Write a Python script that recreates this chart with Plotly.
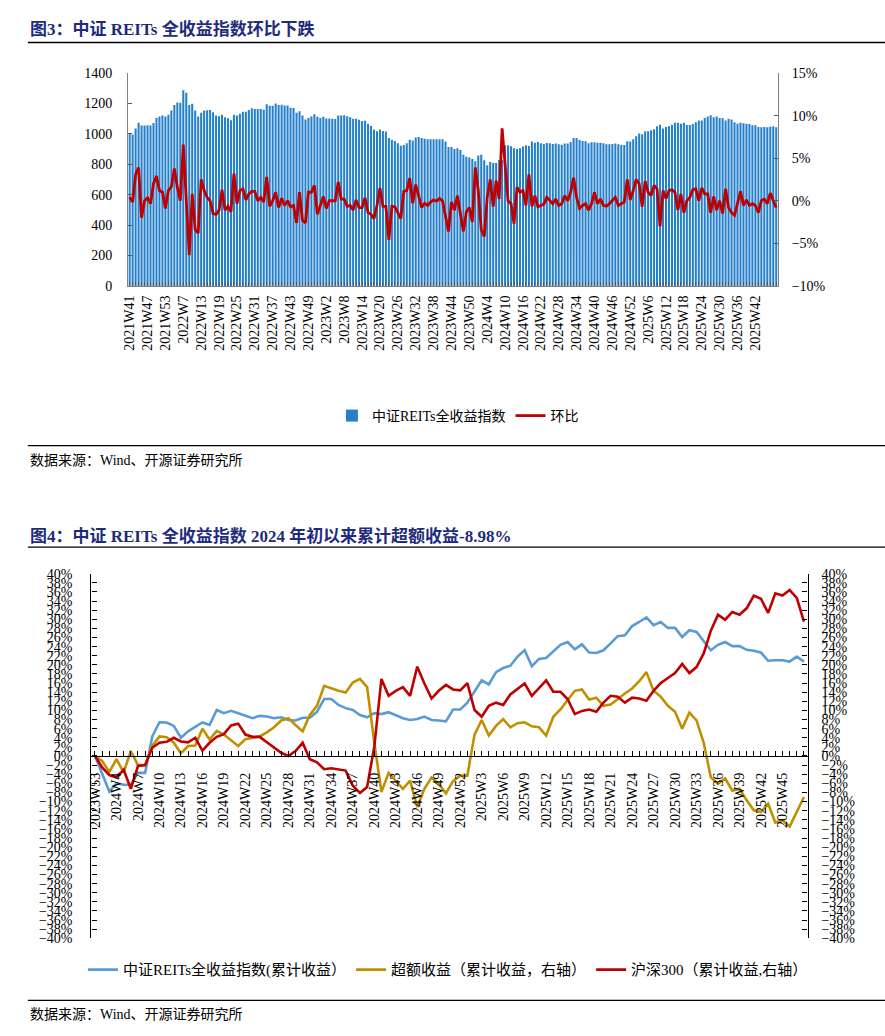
import plotly.graph_objects as go

W, H = 885, 1036
def fx(px): return px / W
def fy(py): return 1 - py / H

FONT = "Liberation Serif, 'Times New Roman', 'Noto Sans CJK SC', serif"
TITLE_COLOR = "#1F2C7B"

# ---------------- Figure 3 data ----------------
cats_top = ([f"2021W{w}" for w in range(41, 54)] + [f"2022W{w}" for w in range(2, 54)] +
            [f"2023W{w}" for w in range(1, 53)] + [f"2024W{w}" for w in range(1, 53)] +
            [f"2025W{w}" for w in range(1, 50)])

reits_index = [
    1000, 995, 1035, 1073, 1055, 1055, 1056, 1055, 1071, 1105, 1114, 1120, 1114, 1125, 1153, 1190, 1206, 1204, 1286, 1271,
    1190, 1198, 1153, 1114, 1138, 1153, 1155, 1157, 1142, 1120, 1116, 1125, 1110, 1103, 1090, 1125, 1120, 1133, 1146, 1146,
    1157, 1168,
    1163, 1163, 1163, 1159, 1194, 1185, 1185, 1200, 1189, 1191, 1187, 1187, 1172, 1170, 1138, 1148, 1120, 1095, 1105, 1114,
    1129, 1112, 1105, 1112, 1101, 1101, 1099, 1097, 1120, 1120, 1122, 1116, 1110, 1099, 1099, 1093, 1084, 1086, 1067, 1052,
    1028, 1017, 1028, 1019,
    1015, 972, 961, 953, 938, 921, 927, 938, 961, 957, 976, 980, 972, 967, 964, 964, 964, 964, 964, 964,
    949, 914, 914, 901, 905, 893, 862, 849, 845, 835, 820, 858, 862, 826, 794, 815, 809, 809, 828, 828,
    925, 925, 918, 905,
    900, 905, 916, 925, 920, 949, 942, 946, 938, 933, 940, 938, 933, 936, 931, 929, 936, 936, 946, 972,
    972, 959, 953, 951, 938, 944, 944, 942, 942, 938, 931, 931, 933, 936, 931, 927, 927, 951, 949, 964,
    985, 1002, 998, 1017,
    1017, 1024, 1030, 1050, 1060, 1035, 1045, 1050, 1060, 1073, 1073, 1067, 1073, 1058, 1058, 1065, 1077, 1088, 1088, 1105,
    1114, 1123, 1110, 1114, 1105, 1103, 1088, 1099, 1095, 1077, 1067, 1073, 1069, 1067, 1065, 1056, 1056, 1045, 1043, 1045,
    1043, 1047, 1050, 1043,
]

wow_pct = [
    0.42, -0.15, 3.1, 3.9, -2.0, 0.0, 0.35, -0.35, 2.0, 2.9, 1.2, 1.0, -0.9, 1.2, 1.65, 3.8, 1.6, 0.0, 6.6, 0.4,
    -6.4, 0.8, -3.4, -3.8, 2.5, 1.2, 0.4, 0.0, -1.5, -1.6, -1.1, 1.3, -1.1, -0.65, -1.3, 3.2, -0.35, 1.2, 1.4, 0.1,
    0.8, 1.1,
    1.1, 0.0, 0.4, -0.15, 2.8, -0.65, 0.0, 1.0, -0.8, 0.3, -0.55, 0.0, -0.7, -0.55, -2.6, 1.0, -2.3, -2.6, 1.0, 1.0,
    1.8, -1.6, -0.55, 0.5, -0.9, 0.0, 0.0, 0.0, 2.2, 0.2, 0.2, -0.65, -0.55, -1.1, 0.1, -0.8, -0.8, 0.35, -1.4, -1.6,
    -2.1, -0.55, 1.5, -0.65,
    -0.65, -4.6, -0.65, -0.7, -1.4, -2.1, 1.1, 1.2, 2.65, -0.3, 1.9, 0.5, -0.8, -0.3, -0.55, -0.15, 0.1, -0.05, 0.25, 0.0,
    -1.7, -3.6, -0.15, -1.1, 0.6, -1.5, -3.6, -1.3, -0.8, -2.5, 3.9, 1.2, -3.4, -4.2, 0.4, 2.5, -0.7, 2.35, 0.2, 8.5,
    4.3, 0.0, -0.35, -2.7,
    1.6, 1.0, 1.2, -0.55, 3.1, -0.65, 0.6, -0.7, -0.55, -0.4, 0.4, 0.0, -0.35, 0.2, -0.55, -0.35, 0.6, 0.0, 1.0, 2.7,
    0.4, -0.9, -0.55, -0.35, -1.1, -0.35, 1.0, -0.35, 0.2, -0.55, -0.65, -0.35, 0.0, 0.4, -0.55, -0.3, -0.15, 2.5, 0.1, 1.2,
    2.5, 2.0, -0.7, 2.3,
    1.0, 0.6, 1.8, 1.4, -3.0, 1.2, 0.25, 1.2, 1.3, 1.0, -1.1, 0.8, -1.4, 0.0, 0.4, 1.3, 1.4, 0.0, 1.5, 0.8,
    0.8, -1.4, 0.5, -1.1, 0.0, -1.5, 1.4, -0.8, -1.4, -1.7, -0.35, 1.1, -0.55, 0.1, -0.55, -0.35, -0.55, -1.4, 0.0, 0.2,
    -0.35, 0.9, 0.0, -0.8,
]
# tick labels shown every 6 weeks, last one 2025W42
top_labels = [c if (i % 6 == 0 and i <= 210) else "" for i, c in enumerate(cats_top)]

# ---------------- Figure 4 data ----------------
cats_bot = ["2023W53"] + [f"2024W{w}" for w in range(2, 53)] + [f"2025W{w}" for w in range(1, 49)]

reits_cum = [
    0, -4.0, -7.8, -6.0, -6.3, -6.3, -3.7, -3.7, 4.3, 7.4,
    7.35, 6.6, 4.0, 5.4, 6.3, 7.35, 6.8, 10.1, 9.4, 9.9,
    9.4, 8.9, 8.3, 8.8, 8.65, 8.3, 8.5, 7.9, 7.8, 8.4,
    8.4, 9.7, 12.5, 12.5, 11.2, 10.5, 10.1, 9.0, 8.5, 9.4,
    9.2, 9.6, 9.0, 8.3, 7.9, 8.1, 8.65, 7.9, 7.8, 7.6,
    10.2, 10.2, 11.7, 14.1, 16.6, 15.7, 18.4, 19.3, 19.8, 21.8,
    23.2, 19.7, 21.3, 21.5, 22.9, 24.4, 25.0, 23.4, 24.5, 22.7,
    22.6, 23.2, 24.7, 26.3, 26.5, 28.5, 29.4, 30.4, 28.7, 29.4,
    28.1, 28.1, 26.1, 27.6, 27.2, 25.2, 23.2, 24.4, 25.0, 24.1,
    24.1, 23.3, 23.1, 22.7, 20.9, 21.0, 21.0, 20.7, 21.8, 20.7,
]
excess_cum = [
    0, -1.1, -3.5, -0.7, -3.6, 1.1, -2.0, -2.0, 2.2, 4.3,
    4.1, 2.9, 0.6, 2.2, 2.3, 6.0, 3.6, 5.5, 4.7, 3.5,
    2.2, 3.7, 4.0, 4.3, 5.2, 6.3, 7.8, 8.3, 6.8, 5.4,
    9.0, 11.0, 15.4, 14.8, 14.3, 13.9, 16.1, 16.9, 15.1, 3.0,
    -7.9, -3.7, -5.4, -7.2, -5.4, -11.2, -7.2, -4.7, -6.1, -8.2,
    -5.5, -4.3, -4.3, 4.7, 7.9, 4.5, 6.6, 8.1, 6.3, 7.2,
    7.4, 6.5, 6.3, 4.5, 8.6, 10.2, 12.3, 14.3, 14.6, 12.4,
    12.8, 11.0, 11.3, 12.6, 13.7, 14.8, 16.4, 18.4, 14.3, 13.0,
    11.0, 9.7, 6.0, 9.5, 7.8, 2.9, -4.7, -6.1, -4.9, -7.6,
    -7.2, -9.7, -11.9, -12.3, -10.5, -14.6, -14.1, -15.5, -12.3, -9.0,
]
hs300_cum = [
    0, -2.5, -4.2, -4.7, -3.0, -7.2, -2.2, -2.0, 1.8, 2.9,
    3.1, 4.0, 3.2, 3.0, 4.0, 1.2, 2.9, 4.2, 4.8, 6.7,
    7.1, 4.7, 4.2, 4.2, 3.0, 1.8, 0.7, 0.0, 1.1, 2.9,
    -0.7, -1.4, -2.9, -2.7, -3.0, -3.2, -6.5, -8.1, -6.8, 2.0,
    16.9, 13.2, 14.3, 15.1, 13.2, 19.6, 15.9, 12.6, 14.3, 15.6,
    14.6, 14.4, 16.0, 10.1, 8.6, 11.0, 11.7, 11.2, 13.5, 14.8,
    15.9, 13.2, 14.8, 16.6, 14.1, 14.1, 12.5, 9.2, 9.9, 10.2,
    9.7, 11.7, 13.2, 13.0, 11.7, 12.8, 12.6, 12.1, 14.3, 16.0,
    17.1, 18.2, 20.2, 18.2, 19.5, 22.5, 27.5, 31.0, 29.9, 31.6,
    31.0, 32.4, 35.2, 34.5, 31.4, 35.7, 35.2, 36.4, 34.7, 29.5,
]
# tick labels shown every 3 weeks, last one 2025W45
bot_labels = [c if (i % 3 == 0 and i <= 96) else "" for i, c in enumerate(cats_bot)]

# ---------------- Build figure ----------------
fig = go.Figure()
fig.add_trace(go.Bar(x=cats_top, y=reits_index, name="中证REITs全收益指数",
                     marker=dict(color="#2580CC", line=dict(width=0)),
                     xaxis="x", yaxis="y", legend="legend"))
fig.add_trace(go.Scatter(x=cats_top, y=wow_pct, name="环比", mode="lines",
                         line=dict(color="#C00000", width=2.8),
                         xaxis="x", yaxis="y2", legend="legend"))

fig.add_trace(go.Scatter(x=cats_bot, y=reits_cum, name="中证REITs全收益指数(累计收益）", mode="lines",
                         line=dict(color="#5B9BD5", width=2.6), xaxis="x2", yaxis="y3", legend="legend2"))
fig.add_trace(go.Scatter(x=cats_bot, y=excess_cum, name="超额收益（累计收益，右轴）", mode="lines",
                         line=dict(color="#BF9000", width=2.6), xaxis="x2", yaxis="y4", legend="legend2"))
fig.add_trace(go.Scatter(x=cats_bot, y=hs300_cum, name="沪深300（累计收益,右轴）", mode="lines",
                         line=dict(color="#C00000", width=2.6), xaxis="x2", yaxis="y4", legend="legend2"))

tickfont = dict(family=FONT, size=14, color="#000000")

top_y = [fy(283), fy(67)]
bot_y = [fy(945), fy(575)]

fig.update_layout(
    width=W, height=H,
    margin=dict(l=0, r=0, t=0, b=0),
    paper_bgcolor="white", plot_bgcolor="white",
    font=dict(family=FONT, size=13, color="#000000"),
    bargap=0.31,
    showlegend=True,
    xaxis=dict(domain=[fx(123), fx(777)], anchor="y", type="category",
               range=[-0.5, len(cats_top) - 0.5],
               tickmode="array", tickvals=cats_top, ticktext=top_labels,
               tickangle=-90, ticks="inside", ticklen=4, tickcolor="#595959", tickwidth=1,
               showline=True, linecolor="#808080", linewidth=1.2,
               showgrid=False, zeroline=False, tickfont=tickfont, ticklabelstandoff=3),
    yaxis=dict(domain=top_y, anchor="x", range=[0, 1400], dtick=200,
               ticks="inside", ticklen=4, tickcolor="#595959",
               showline=True, linecolor="#808080", linewidth=1.2,
               showgrid=False, zeroline=False, tickfont=tickfont, ticklabelstandoff=12),
    yaxis2=dict(overlaying="y", side="right", anchor="x", range=[-10, 15], dtick=5,
                ticksuffix="%", ticks="inside", ticklen=4, tickcolor="#595959",
                showline=True, linecolor="#808080", linewidth=1.2,
                showgrid=False, zeroline=False, tickfont=tickfont, ticklabelstandoff=10),
    xaxis2=dict(domain=[fx(86), fx(807)], anchor="free", position=(bot_y[0] + bot_y[1]) / 2,
                type="category", range=[-0.5, len(cats_bot) - 0.5],
                tickmode="array", tickvals=cats_bot, ticktext=bot_labels,
                tickangle=-90, ticks="inside", ticklen=5, tickcolor="#000000", tickwidth=1,
                showline=True, linecolor="#000000", linewidth=1.3,
                showgrid=False, zeroline=False, tickfont=tickfont, ticklabelstandoff=10),
    yaxis3=dict(domain=bot_y, anchor="x2", range=[-40, 40], dtick=2, ticksuffix="%",
                ticks="inside", ticklen=5, tickcolor="#000000",
                showline=True, linecolor="#000000", linewidth=1.3,
                showgrid=False, zeroline=False, tickfont=tickfont, ticklabelstandoff=15),
    yaxis4=dict(overlaying="y3", side="right", anchor="x2", range=[-40, 40], dtick=2, ticksuffix="%",
                ticks="inside", ticklen=5, tickcolor="#000000",
                showline=True, linecolor="#000000", linewidth=1.3,
                showgrid=False, zeroline=False, tickfont=tickfont, ticklabelstandoff=10),
    legend=dict(orientation="h", x=fx(455), xanchor="center", y=fy(415), yanchor="middle",
                font=dict(family=FONT, size=14), bgcolor="rgba(0,0,0,0)"),
    legend2=dict(orientation="h", x=fx(445), xanchor="center", y=fy(977), yanchor="middle",
                 font=dict(family=FONT, size=15), bgcolor="rgba(0,0,0,0)"),
)

annotations = [
    dict(text="<b>图3：中证 REITs 全收益指数环比下跌</b>", x=fx(22), y=fy(22)),
    dict(text="<b>图4：中证 REITs 全收益指数 2024 年初以来累计超额收益-8.98%</b>", x=fx(22), y=fy(537)),
]
for a in annotations:
    fig.add_annotation(xref="paper", yref="paper", xanchor="left", yanchor="middle", showarrow=False,
                       font=dict(family=FONT, size=17, color=TITLE_COLOR), **a)
for yy in (460, 1022):
    fig.add_annotation(text="数据来源：Wind、开源证券研究所", xref="paper", yref="paper",
                       x=fx(22), y=fy(yy), xanchor="left", yanchor="middle", showarrow=False,
                       font=dict(family=FONT, size=14, color="#000000"))

for yy in (36, 445, 548, 1008):
    fig.add_shape(type="line", xref="paper", yref="paper", x0=fx(22), x1=1, y0=fy(yy), y1=fy(yy),
                  line=dict(color="#000000", width=1.3))

fig.write_html("out.html", config={"displayModeBar": False},
               post_script="document.body.style.margin='0px';document.body.style.overflow='hidden';")
